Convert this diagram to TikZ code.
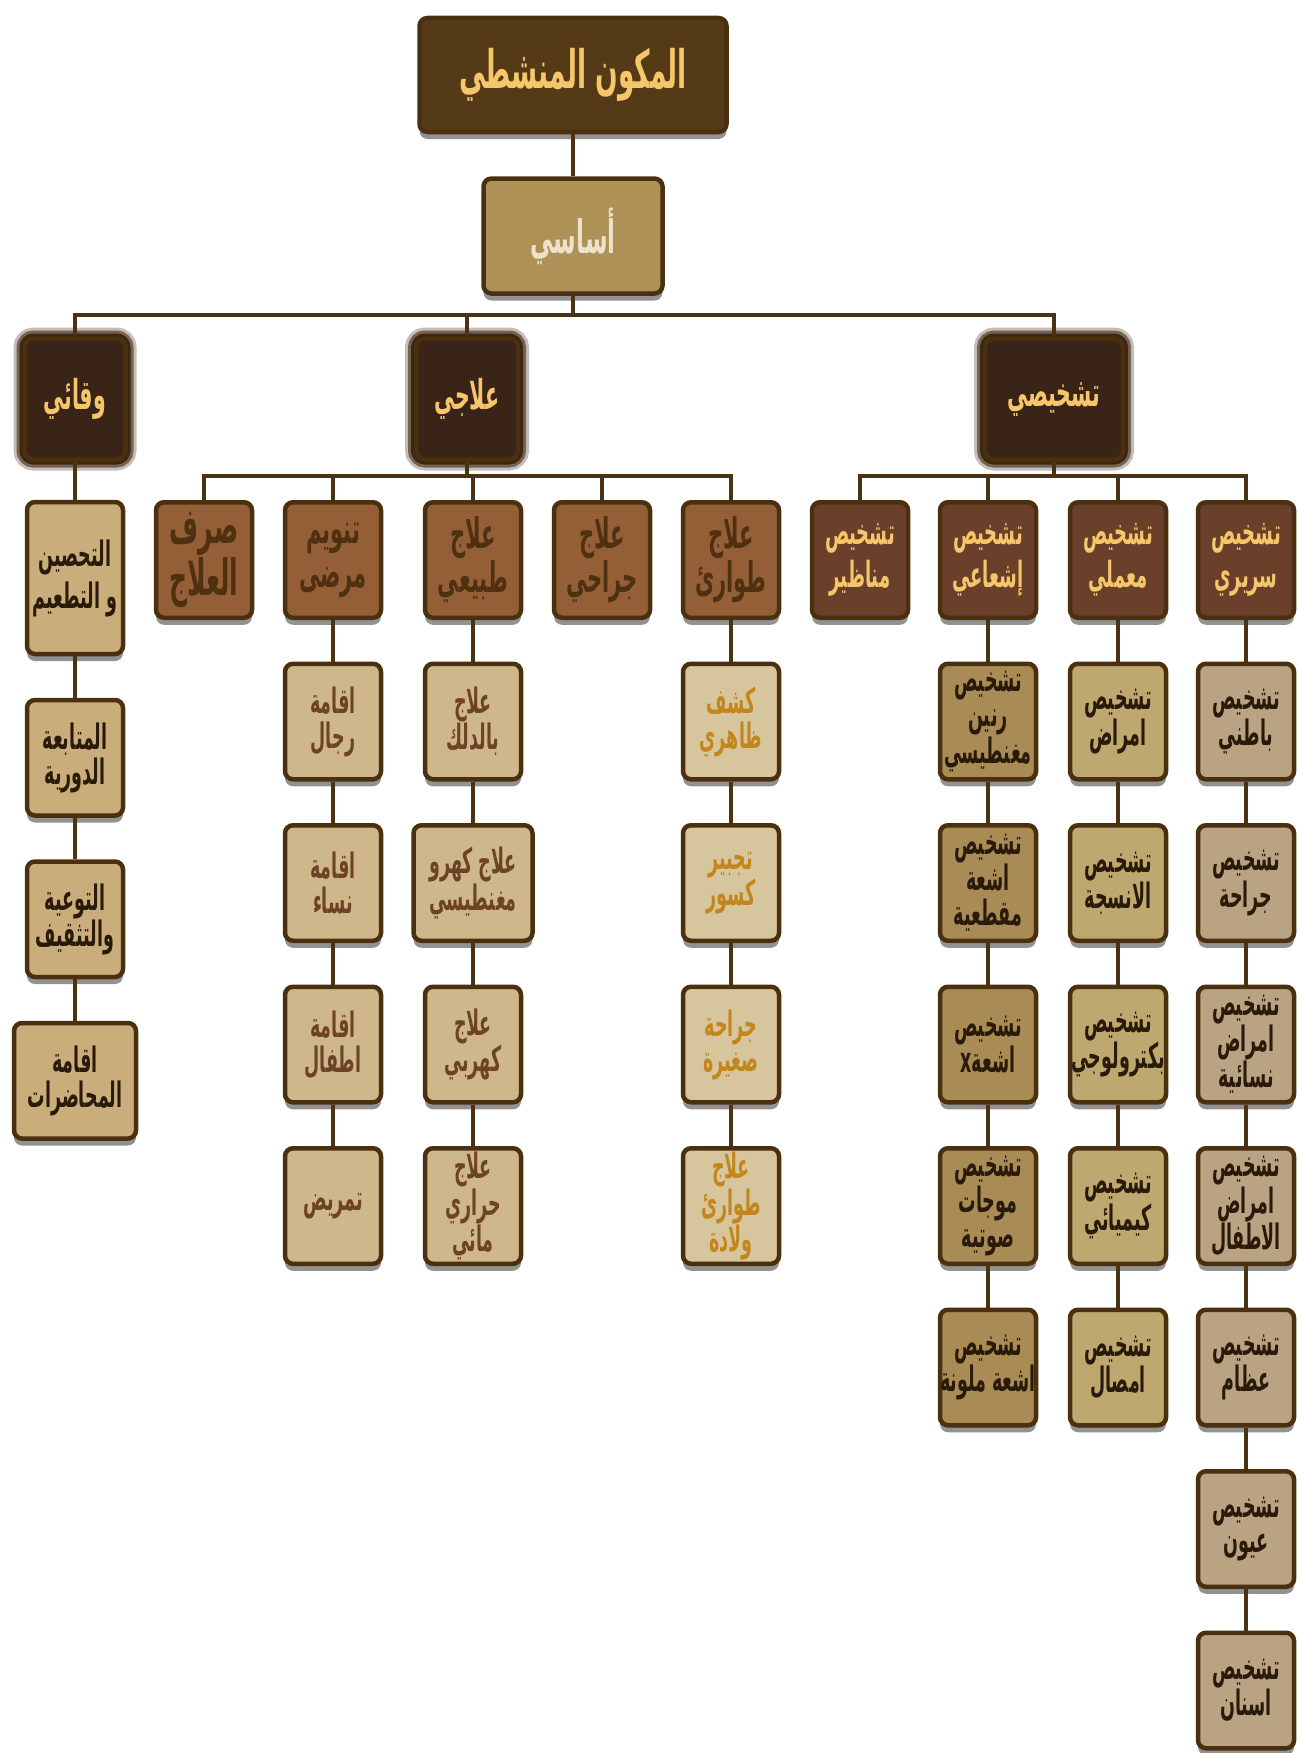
\documentclass[tikz,border=0pt]{standalone}
\usepackage{fontspec}
\usepackage{tikz}
\usetikzlibrary{positioning,shadows}
\newfontfamily\arabicfont[Script=Arabic,FakeStretch=0.5]{DejaVu Sans}
\TeXXeTstate=1
\newcommand{\ar}[1]{\beginR #1\endR}

\definecolor{edgec}{HTML}{4A300E}
\definecolor{linkc}{HTML}{4A3312}
\definecolor{goldc}{HTML}{F6C66B}
\definecolor{topc}{HTML}{553A17}
\definecolor{basec}{HTML}{AD9157}
\definecolor{creamc}{HTML}{ECE2CA}
\definecolor{darkc}{HTML}{3A2418}
\definecolor{glowc}{HTML}{3E2610}
\definecolor{treatc}{HTML}{945F37}
\definecolor{treattxt}{HTML}{4F3010}
\definecolor{diagc}{HTML}{6B402A}
\definecolor{prevc}{HTML}{C9AD7B}
\definecolor{darktxt}{HTML}{2A1A0A}
\definecolor{wardc}{HTML}{CDB78B}
\definecolor{wardtxt}{HTML}{6E4325}
\definecolor{emergc}{HTML}{D7C59D}
\definecolor{emergtxt}{HTML}{C2861C}
\definecolor{radioc}{HTML}{A98B55}
\definecolor{labc}{HTML}{BFA770}
\definecolor{clinc}{HTML}{B9A383}

\begin{document}
\begin{tikzpicture}[x=1pt,y=1pt,
    node distance=41.5pt,
    box/.style={rectangle,rounded corners=8pt,draw=edgec,line width=4.5pt,align=center,inner sep=0pt,
      drop shadow={shadow xshift=0pt,shadow yshift=-7pt,opacity=.5,fill=black!85}},
    item/.style={box,minimum width=96pt,minimum height=115.5pt,text=darktxt,
      font=\arabicfont\bfseries\fontsize{35}{35}\selectfont},
    topbox/.style={box,fill=topc,text=goldc,minimum width=307pt,minimum height=114pt,
      font=\arabicfont\bfseries\fontsize{53}{58}\selectfont},
    basebox/.style={box,fill=basec,text=creamc,minimum width=179pt,minimum height=115pt,
      font=\arabicfont\bfseries\fontsize{46}{50}\selectfont},
    mainbox/.style={rectangle,rounded corners=9pt,draw=edgec,line width=4.5pt,fill=darkc,text=goldc,
      minimum height=121pt,font=\arabicfont\bfseries\fontsize{41}{46}\selectfont,
      preaction={draw=glowc,line width=22pt,draw opacity=.3},
      preaction={draw=glowc,line width=16pt,draw opacity=.6},
      preaction={draw=glowc,line width=10pt,draw opacity=1}},
    treatbox/.style={box,fill=treatc,text=treattxt,minimum width=96pt,minimum height=115.5pt,
      font=\arabicfont\bfseries\fontsize{42}{44}\selectfont},
    diagbox/.style={box,fill=diagc,text=goldc,minimum width=96pt,minimum height=115.5pt,
      font=\arabicfont\bfseries\fontsize{36}{43}\selectfont},
    link/.style={draw=linkc,line width=3.5pt}]

\useasboundingbox (0,0) rectangle (1299,-1753);

% top of the tree
\node (title) [topbox] at (573,-75) {\ar{المكون المنشطي}};
\node (base)  [basebox] at (573,-236) {\ar{أساسي}};

\node (prevent) [mainbox,minimum width=101pt] at (75,-399)   {\ar{وقائي}};
\node (treat)   [mainbox,minimum width=102pt] at (467,-399)  {\ar{علاجي}};
\node (diag)    [mainbox,minimum width=138pt] at (1054,-399) {\ar{تشخيصي}};

\coordinate (bus1) at (573,-315);
\coordinate (bus2) at (467,-476);
\coordinate (bus3) at (1054,-476);

% second level
\node (dispense)  [treatbox,font=\arabicfont\bfseries\fontsize{50}{48}\selectfont] at (204,-560) {\ar{صرف}\\\ar{العلاج}};
\node (wards)     [treatbox] at (333,-560) {\ar{تنويم}\\\ar{مرضى}};
\node (physio)    [treatbox] at (473,-560) {\ar{علاج}\\\ar{طبيعي}};
\node (surgery)   [treatbox] at (602,-560) {\ar{علاج}\\\ar{جراحي}};
\node (emergency) [treatbox] at (731,-560) {\ar{علاج}\\\ar{طوارئ}};
\node (endoscopy) [diagbox] at (860,-560)  {\ar{تشخيص}\\\ar{مناظير}};
\node (radiology) [diagbox] at (988,-560)  {\ar{تشخيص}\\\ar{إشعاعي}};
\node (lab)       [diagbox] at (1118,-560) {\ar{تشخيص}\\\ar{معملي}};
\node (clinical)  [diagbox] at (1246,-560) {\ar{تشخيص}\\\ar{سريري}};

% prevention column
\node (vacc)     [item,fill=prevc,minimum height=152pt,font=\arabicfont\bfseries\fontsize{35}{42}\selectfont] at (75,-578) {\ar{التحصين}\\\ar{و التطعيم}};
\node (followup) [item,fill=prevc,below=of vacc]     {\ar{المتابعة}\\\ar{الدورية}};
\node (aware)    [item,fill=prevc,below=of followup] {\ar{التوعية}\\\ar{والتثقيف}};
\node (lectures) [item,fill=prevc,minimum width=122pt,below=of aware] {\ar{اقامة}\\\ar{المحاضرات}};

% wards column
\node (men)     [item,fill=wardc,text=wardtxt,below=of wards] {\ar{اقامة}\\\ar{رجال}};
\node (women)   [item,fill=wardc,text=wardtxt,below=of men]   {\ar{اقامة}\\\ar{نساء}};
\node (kids)    [item,fill=wardc,text=wardtxt,below=of women] {\ar{اقامة}\\\ar{اطفال}};
\node (nursing) [item,fill=wardc,text=wardtxt,below=of kids]  {\ar{تمريض}};

% physiotherapy column
\node (massage)    [item,fill=wardc,text=wardtxt,below=of physio]  {\ar{علاج}\\\ar{بالدلك}};
\node (electromag) [item,fill=wardc,text=wardtxt,minimum width=119pt,below=of massage] {\ar{علاج كهرو}\\\ar{مغنطيسي}};
\node (electric)   [item,fill=wardc,text=wardtxt,below=of electromag] {\ar{علاج}\\\ar{كهربي}};
\node (hydro)      [item,fill=wardc,text=wardtxt,below=of electric]   {\ar{علاج}\\\ar{حراري}\\\ar{مائي}};

% emergency column
\node (exam)      [item,fill=emergc,text=emergtxt,below=of emergency] {\ar{كشف}\\\ar{ظاهري}};
\node (fracture)  [item,fill=emergc,text=emergtxt,below=of exam]      {\ar{تجبير}\\\ar{كسور}};
\node (minorsurg) [item,fill=emergc,text=emergtxt,below=of fracture]  {\ar{جراحة}\\\ar{صغيرة}};
\node (birth)     [item,fill=emergc,text=emergtxt,below=of minorsurg] {\ar{علاج}\\\ar{طوارئ}\\\ar{ولادة}};

% radiology column
\node (mri)    [item,fill=radioc,below=of radiology] {\ar{تشخيص}\\\ar{رنين}\\\ar{مغنطيسي}};
\node (ct)     [item,fill=radioc,below=of mri]    {\ar{تشخيص}\\\ar{اشعة}\\\ar{مقطعية}};
\node (xray)   [item,fill=radioc,below=of ct]     {\ar{تشخيص}\\\ar{اشعة\beginL x\endL}};
\node (ultra)  [item,fill=radioc,below=of xray]   {\ar{تشخيص}\\\ar{موجات}\\\ar{صوتية}};
\node (colour) [item,fill=radioc,below=of ultra]  {\ar{تشخيص}\\\ar{اشعة ملونة}};

% laboratory column
\node (disease)  [item,fill=labc,below=of lab]      {\ar{تشخيص}\\\ar{امراض}};
\node (tissue)   [item,fill=labc,below=of disease]  {\ar{تشخيص}\\\ar{الانسجة}};
\node (bacterio) [item,fill=labc,below=of tissue]   {\ar{تشخيص}\\\ar{بكترولوجي}};
\node (chem)     [item,fill=labc,below=of bacterio] {\ar{تشخيص}\\\ar{كيميائي}};
\node (serum)    [item,fill=labc,below=of chem]     {\ar{تشخيص}\\\ar{امصال}};

% clinical column
\node (internal) [item,fill=clinc,below=of clinical] {\ar{تشخيص}\\\ar{باطني}};
\node (surg)     [item,fill=clinc,below=of internal] {\ar{تشخيص}\\\ar{جراحة}};
\node (gyn)      [item,fill=clinc,below=of surg]     {\ar{تشخيص}\\\ar{امراض}\\\ar{نسائية}};
\node (paed)     [item,fill=clinc,below=of gyn]      {\ar{تشخيص}\\\ar{امراض}\\\ar{الاطفال}};
\node (bone)     [item,fill=clinc,below=of paed]     {\ar{تشخيص}\\\ar{عظام}};
\node (eye)      [item,fill=clinc,below=of bone]     {\ar{تشخيص}\\\ar{عيون}};
\node (teeth)    [item,fill=clinc,below=of eye]      {\ar{تشخيص}\\\ar{اسنان}};

% connectors
\path[link] (title) edge (base);
\draw[link] (base) -- (bus1) -| (prevent);
\draw[link] (bus1) -| (treat);
\draw[link] (bus1) -| (diag);

\draw[link] (treat) -- (bus2) -| (dispense);
\draw[link] (bus2) -| (wards);
\draw[link] (bus2) -| (physio);
\draw[link] (bus2) -| (surgery);
\draw[link] (bus2) -| (emergency);

\draw[link] (diag) -- (bus3) -| (endoscopy);
\draw[link] (bus3) -| (radiology);
\draw[link] (bus3) -| (lab);
\draw[link] (bus3) -| (clinical);

\path[link] (prevent) edge (vacc)  (vacc) edge (followup)  (followup) edge (aware)  (aware) edge (lectures)
            (wards) edge (men)  (men) edge (women)  (women) edge (kids)  (kids) edge (nursing)
            (physio) edge (massage)  (massage) edge (electromag)  (electromag) edge (electric)  (electric) edge (hydro)
            (emergency) edge (exam)  (exam) edge (fracture)  (fracture) edge (minorsurg)  (minorsurg) edge (birth)
            (radiology) edge (mri)  (mri) edge (ct)  (ct) edge (xray)  (xray) edge (ultra)  (ultra) edge (colour)
            (lab) edge (disease)  (disease) edge (tissue)  (tissue) edge (bacterio)  (bacterio) edge (chem)  (chem) edge (serum)
            (clinical) edge (internal)  (internal) edge (surg)  (surg) edge (gyn)  (gyn) edge (paed)  (paed) edge (bone)
            (bone) edge (eye)  (eye) edge (teeth);

\end{tikzpicture}
\end{document}
